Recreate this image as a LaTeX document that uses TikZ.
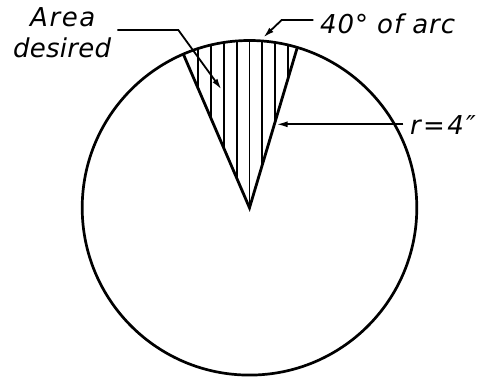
\documentclass[tikz,border=0pt]{standalone}
\usepackage{fontspec}
\setmainfont{DejaVu Sans}
\usetikzlibrary{arrows.meta}
\begin{document}
\begin{tikzpicture}[x=1pt,y=1pt,
  outline/.style={line width=2.7pt},
  edge/.style={line width=2.8pt,line join=miter},
  hatch/.style={line width=1.9pt},
  leader/.style={line width=1.8pt,-{Latex[length=11pt,width=6pt]}},
  lab/.style={inner sep=0pt,anchor=base west,font=\fontsize{26}{31}\selectfont\itshape}]
\useasboundingbox (0,0) rectangle (480,379);
\coordinate (C) at (249.5,171.2);
% hatching of sector
\begin{scope}
  \clip (C) -- ++(73.4:167.3) arc[start angle=73.4,end angle=113.3,radius=167.3] -- cycle;
  \foreach \k in {-4,...,3}
    \draw[hatch] ({249.5+\k*12.9},150) -- ({249.5+\k*12.9},379);
\end{scope}
% circle
\draw[outline] (C) circle[radius=167.3];
% sector edges
\draw[edge] (C) ++(73.4:167.3) coordinate (SR) -- (C) -- ++(113.3:167.3) coordinate (SL);
% labels
\node[lab] (area) at (30,352.3) {\addfontfeature{LetterSpace=6}Area};
\node[lab] (desired) at (13,321) {\addfontfeature{LetterSpace=1}desired};
\node[lab] (arc) at (320,345.7) {\addfontfeature{LetterSpace=3.5}40° of arc};
\node[lab] (rad) at (410,244) {\addfontfeature{LetterSpace=9}r=4″};
% leaders
\coordinate (A1) at (117.3,349);
\coordinate (A2) at (178.3,349);
\coordinate (A3) at (221.5,289.5);
\draw[leader] (A1) -- (A2) -- (A3);
\coordinate (B1) at (313.3,359);
\coordinate (B2) at (281.7,359);
\coordinate (B3) at (263.3,341.5);
\draw[leader] (B1) -- (B2) -- (B3);
\coordinate (R1) at (403.3,254.7);
\coordinate (R2) at (276.5,254.7);
\draw[leader] (R1) -- (R2);
\end{tikzpicture}
\end{document}
